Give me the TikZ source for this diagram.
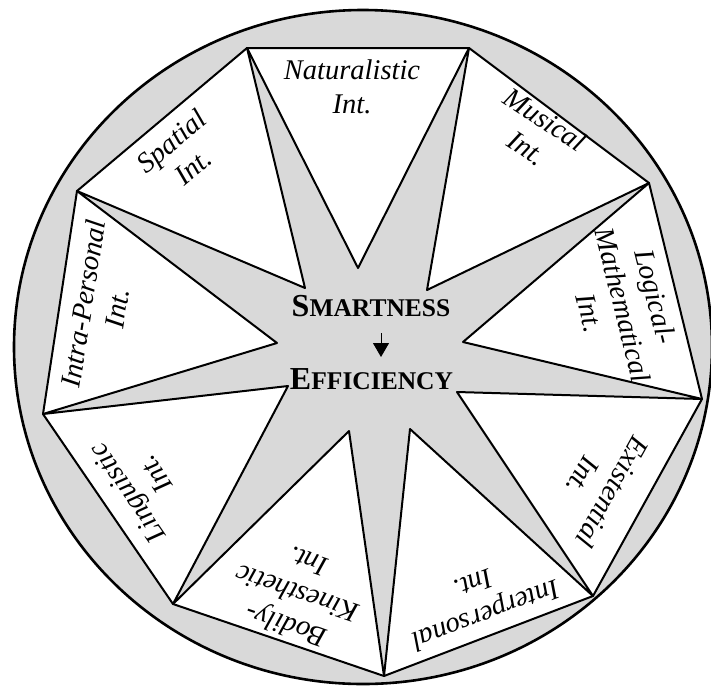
\documentclass[tikz,border=0pt]{standalone}
\usepackage{fontspec}
\setmainfont{Liberation Serif}
\usetikzlibrary{arrows.meta}
\definecolor{bgray}{HTML}{D9D9D9}
\begin{document}
\begin{tikzpicture}[x=1pt,y=-1pt,
  outline/.style={line width=2.6pt, draw=black, fill=bgray},
  poly/.style={line width=2pt, draw=black, line join=round},
  lab/.style={font=\fontsize{28.5}{34}\selectfont\itshape, align=center, inner sep=0pt},
  ctr/.style={font=\bfseries, inner sep=0pt, anchor=base}]
\useasboundingbox (0,0) rectangle (711,686);
\begin{scope}
\clip (0,0) rectangle (711,686);
\draw[outline] (363,347) ellipse [x radius=349pt, y radius=337pt];
\end{scope}
% nonagon vertices
\coordinate (v1) at (247,48);
\coordinate (v2) at (469,48);
\coordinate (v3) at (649,183);
\coordinate (v4) at (702,399);
\coordinate (v5) at (593,596);
\coordinate (v6) at (384,676);
\coordinate (v7) at (173,604);
\coordinate (v8) at (43,414);
\coordinate (v9) at (77,191);
% inner star points
\coordinate (i1) at (358,268);
\coordinate (i2) at (427,290);
\coordinate (i3) at (463,342);
\coordinate (i4) at (457,392);
\coordinate (i5) at (410,429);
\coordinate (i6) at (349,431);
\coordinate (i7) at (288,386);
\coordinate (i8) at (277,343);
\coordinate (i9) at (305,288);
\draw[poly, fill=white] (v1) -- (v2) -- (v3) -- (v4) -- (v5) -- (v6) -- (v7) -- (v8) -- (v9) -- cycle;
\draw[poly, fill=bgray] (v1) -- (i1) -- (v2) -- (i2) -- (v3) -- (i3) -- (v4) -- (i4) -- (v5) -- (i5) -- (v6) -- (i6) -- (v7) -- (i7) -- (v8) -- (i8) -- (v9) -- (i9) -- cycle;
% labels
\node[lab] (nat) at (352,87) {Naturalistic\\Int.};
\node[lab, rotate=-33] (mus) at (536,134) {Musical\\Int.};
\node[lab, rotate=-76] (log) at (623,305) {Logical-\\Mathematical\\Int.};
\node[lab, rotate=-119] (exi) at (598,484) {Existential\\Int.};
\node[lab, rotate=-159] (int) at (480,600) {Interpersonal\\Int.};
\node[lab, rotate=161] (bod) at (297,594) {Bodily-\\Kinesthetic\\Int.};
\node[lab, rotate=124.4] (lin) at (141,484) {Linguistic\\Int.};
\node[lab, rotate=81.3] (intra) at (100,306) {Intra-Personal\\Int.};
\node[lab, rotate=40.1] (spa) at (182,154) {Spatial\\Int.};
% centre
\node[ctr] (smart) at (371,316) {\fontsize{32}{36}\selectfont S\fontsize{25.5}{30}\selectfont MARTNESS};
\node[ctr] (eff) at (371.5,389) {\fontsize{32}{36}\selectfont E\fontsize{25.5}{30}\selectfont FFICIENCY};
\coordinate (atop) at (381,333);
\coordinate (abot) at (381,357);
\draw[line width=1pt, -{Triangle[length=14pt,width=16pt]}] (atop) -- (abot);
\end{tikzpicture}
\end{document}
